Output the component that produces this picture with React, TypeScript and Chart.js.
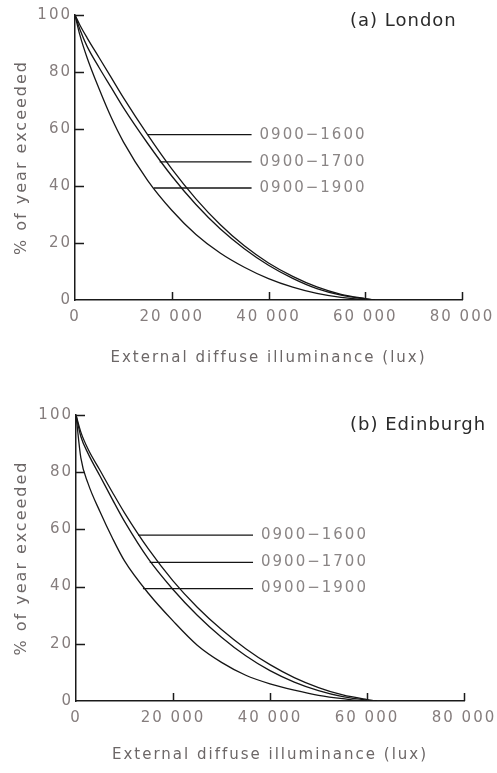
import React, { useEffect, useRef } from "react";
import { Chart, registerables } from "chart.js";

Chart.register(...registerables);

// ---- Data ----
const LUX = [0, 1000, 2500, 5000, 7500, 10000, 15000, 20000, 25000, 30000, 35000, 40000, 45000, 50000, 55000, 60000, 62000];

const LONDON_1600 = [100, 96.5, 92, 85, 78, 71, 58, 46, 35.5, 26.5, 19, 13, 8.3, 4.6, 2, 0.5, 0];
const LONDON_1700 = [100, 95, 89, 81.5, 74.5, 67.5, 55, 43.5, 33.5, 25, 18, 12.2, 7.6, 4, 1.7, 0.4, 0];
const LONDON_1900 = [100, 93, 85, 74, 64, 55.5, 42, 31.5, 23, 16.5, 11.5, 7.5, 4.5, 2.3, 0.9, 0.1, 0];

const EDINBURGH_1600 = [100, 94, 88, 80.5, 73, 65.8, 53, 42, 32.8, 25, 18.3, 12.7, 8.2, 4.7, 2.1, 0.5, 0];
const EDINBURGH_1700 = [100, 92.5, 86.5, 78.5, 70.5, 62.8, 49.5, 39, 30, 22.3, 15.8, 10.6, 6.6, 3.6, 1.5, 0.3, 0];
const EDINBURGH_1900 = [100, 85, 76, 66, 57, 49, 37.5, 28, 19.5, 13.5, 9, 6, 3.8, 2, 0.8, 0, 0];

const SERIES_NAMES = ["0900\u22121600", "0900\u22121700", "0900\u22121900"];

const LEADER_Y_LONDON = [58, 48.5, 39.3];
const LEADER_START_LONDON = [15000, 17500, 16300];
const LEADER_Y_EDINBURGH = [58, 48.5, 39.3];
const LEADER_START_EDINBURGH = [12800, 15200, 13800];
const LEADER_END = 36500;

const X_TICKS = [0, 20000, 40000, 60000, 80000];
const Y_TICKS = [0, 20, 40, 60, 80, 100];

const PANEL_TITLES = ["(a) London", "(b) Edinburgh"];
const X_TITLE = "External diffuse illuminance (lux)";
const Y_TITLE = "% of year exceeded";

// ---- Styles ----
const FONT = "'DejaVu Sans', sans-serif";
const LINE_COLOR = "#151515";
const AXIS_COLOR = "#1a1a1a";
const TICK_COLOR = "#857d7d";
const TITLE_COLOR = "#6c6767";
const LABEL_COLOR = "#8a8585";

function fmtLux(v: number): string {
  return String(v).replace(/(\d)(?=(\d{3})+$)/g, "$1 ");
}

type PanelProps = {
  series: number[][];
  leaderY: number[];
  leaderStart: number[];
  title: string;
  top: number;
  height: number;
  padTop: number;
  padRight: number;
  yAxisWidth: number;
  xAxisHeight: number;
  xTitlePadBottom: number;
  titleDx: number;
  titleDy: number;
};

function Panel(p: PanelProps) {
  const ref = useRef<HTMLCanvasElement | null>(null);

  useEffect(() => {
    const canvas = ref.current;
    if (!canvas) return;

    const spacingPlugin = {
      id: "spacing",
      beforeUpdate(chart: any) {
        chart.ctx.letterSpacing = "2px";
      },
      beforeLayout(chart: any) {
        chart.ctx.letterSpacing = "2px";
      },
      beforeDraw(chart: any) {
        chart.ctx.letterSpacing = "2px";
      },
    };

    const labelsPlugin = {
      id: "panelLabels",
      afterDatasetsDraw(chart: any) {
        const { ctx, chartArea } = chart;
        const x = chart.scales.x;
        const y = chart.scales.y;
        ctx.save();
        // inward tick marks
        ctx.strokeStyle = AXIS_COLOR;
        ctx.lineWidth = 1.5;
        ctx.beginPath();
        Y_TICKS.forEach((v) => {
          if (v === 0) return;
          const py = Math.round(y.getPixelForValue(v)) + 0.5;
          ctx.moveTo(chartArea.left, py);
          ctx.lineTo(chartArea.left + 9, py);
        });
        X_TICKS.forEach((v) => {
          if (v === 0) return;
          const px = Math.round(x.getPixelForValue(v)) + 0.5;
          ctx.moveTo(px, chartArea.bottom);
          ctx.lineTo(px, chartArea.bottom - 8);
        });
        ctx.stroke();
        // series labels
        ctx.font = `15px ${FONT}`;
        ctx.letterSpacing = "2px";
        ctx.fillStyle = LABEL_COLOR;
        ctx.textAlign = "left";
        ctx.textBaseline = "middle";
        SERIES_NAMES.forEach((n, i) => {
          ctx.fillText(n, x.getPixelForValue(LEADER_END) + 8, y.getPixelForValue(p.leaderY[i]));
        });
        // panel title
        ctx.font = `18px ${FONT}`;
        ctx.letterSpacing = "1px";
        ctx.fillStyle = "#2a2a2a";
        ctx.fillText(p.title, chartArea.left + p.titleDx, chartArea.top + p.titleDy);
        ctx.restore();
      },
    };

    const curveDatasets = p.series.map((s, i) => ({
      label: SERIES_NAMES[i],
      data: LUX.map((lx, j) => ({ x: lx, y: s[j] })),
      borderColor: LINE_COLOR,
      borderWidth: 1.3,
      pointRadius: 0,
      fill: false,
      cubicInterpolationMode: "monotone" as const,
    }));

    const leaderDatasets = p.leaderY.map((ly, i) => ({
      label: "leader " + SERIES_NAMES[i],
      data: [
        { x: p.leaderStart[i], y: ly },
        { x: LEADER_END, y: ly },
      ],
      borderColor: LINE_COLOR,
      borderWidth: 1.3,
      pointRadius: 0,
      fill: false,
    }));

    const chart = new Chart(canvas, {
      type: "line",
      data: { datasets: [...curveDatasets, ...leaderDatasets] },
      options: {
        animation: false,
        responsive: false,
        devicePixelRatio: 1,
        layout: { padding: { top: p.padTop, right: p.padRight, left: 0, bottom: 0 } },
        plugins: {
          legend: { display: false },
          tooltip: { enabled: false },
        },
        scales: {
          x: {
            type: "linear",
            min: 0,
            max: 80000,
            afterBuildTicks: (s: any) => {
              s.ticks = X_TICKS.map((v) => ({ value: v }));
            },
            afterFit: (s: any) => {
              s.height = p.xAxisHeight;
            },
            ticks: {
              callback: (v: any) => fmtLux(Number(v)),
              color: TICK_COLOR,
              font: { family: FONT, size: 15 },
              padding: 0,
              maxRotation: 0,
              autoSkip: false,
            },
            grid: {
              display: true,
              drawOnChartArea: false,
              drawTicks: true,
              tickLength: 8,
              tickColor: "rgba(0,0,0,0)",
            },
            border: { display: true, color: AXIS_COLOR, width: 1.5 },
            title: {
              display: true,
              text: X_TITLE,
              color: TITLE_COLOR,
              font: { family: FONT, size: 15 },
              padding: { top: 0, bottom: p.xTitlePadBottom },
            },
          },
          y: {
            type: "linear",
            min: 0,
            max: 100,
            afterBuildTicks: (s: any) => {
              s.ticks = Y_TICKS.map((v) => ({ value: v }));
            },
            afterFit: (s: any) => {
              s.width = p.yAxisWidth;
            },
            ticks: {
              color: TICK_COLOR,
              font: { family: FONT, size: 15 },
              padding: 3,
            },
            grid: { display: true, drawOnChartArea: false, drawTicks: false },
            border: { display: true, color: AXIS_COLOR, width: 1.5 },
            title: {
              display: true,
              text: Y_TITLE,
              color: TITLE_COLOR,
              font: { family: FONT, size: 16 },
              padding: { top: 12, bottom: 0 },
            },
          },
        },
      },
      plugins: [spacingPlugin, labelsPlugin],
    } as any);

    return () => chart.destroy();
  }, []);

  return (
    <canvas
      ref={ref}
      width={497}
      height={p.height}
      style={{ position: "absolute", left: 0, top: p.top, display: "block", width: 497, height: p.height }}
    />
  );
}

export default function App() {
  return (
    <div style={{ position: "absolute", left: 0, top: 0, width: 497, height: 773, background: "#fff" }}>
      <Panel
        series={[LONDON_1600, LONDON_1700, LONDON_1900]}
        leaderY={LEADER_Y_LONDON}
        leaderStart={LEADER_START_LONDON}
        title={PANEL_TITLES[0]}
        top={0}
        height={380}
        padTop={15}
        padRight={35}
        yAxisWidth={75}
        xAxisHeight={80}
        xTitlePadBottom={13}
        titleDx={275}
        titleDy={6}
      />
      <Panel
        series={[EDINBURGH_1600, EDINBURGH_1700, EDINBURGH_1900]}
        leaderY={LEADER_Y_EDINBURGH}
        leaderStart={LEADER_START_EDINBURGH}
        title={PANEL_TITLES[1]}
        top={385}
        height={388}
        padTop={30}
        padRight={33}
        yAxisWidth={76}
        xAxisHeight={72}
        xTitlePadBottom={9}
        titleDx={274}
        titleDy={10}
      />
    </div>
  );
}
